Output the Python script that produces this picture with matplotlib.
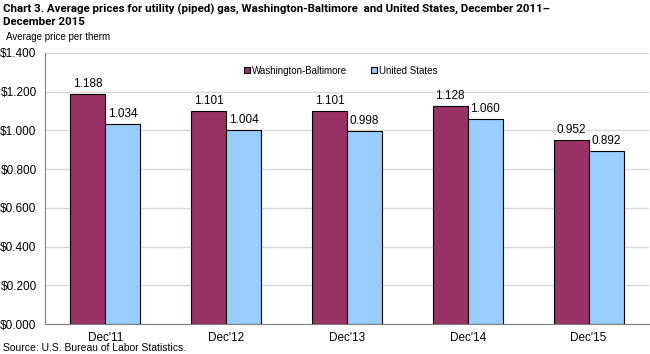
import numpy as np
import matplotlib
matplotlib.use('Agg')
import matplotlib.pyplot as plt
from matplotlib import font_manager as fm

# ── Data
periods = ["Dec'11", "Dec'12", "Dec'13", "Dec'14", "Dec'15"]
wash_balt = [1.188, 1.101, 1.101, 1.128, 0.952]
us_avg = [1.034, 1.004, 0.998, 1.060, 0.892]

C = {"wb": "#993366", "us": "#99ccff", "grid": "#d9d9d9"}

plt.rcParams['font.family'] = ['Liberation Sans', 'DejaVu Sans']

fig = plt.figure(figsize=(6.5, 3.54), dpi=100)
ax = fig.add_axes([45 / 650, 1 - 324 / 354, 604 / 650, 271 / 354])

x = np.arange(len(periods))
w = 0.29
b1 = ax.bar(x - w / 2, wash_balt, w, color=C["wb"], edgecolor="black", lw=0.8,
            label="Washington-Baltimore", zorder=3)
b2 = ax.bar(x + w / 2, us_avg, w, color=C["us"], edgecolor="black", lw=0.8,
            label="United States", zorder=3)
for bars, vals in ((b1, wash_balt), (b2, us_avg)):
    for b, v in zip(bars, vals):
        ax.text(b.get_x() + b.get_width() / 2, v + 0.02, f"{v:.3f}",
                ha="center", va="bottom", fontsize=8.5, zorder=4)

ax.set_xlim(-0.5, len(periods) - 0.5)
ax.set_ylim(0, 1.4)
ax.set_yticks(np.arange(0, 1.41, 0.2))
ax.set_yticklabels([f"${t:.3f}" for t in np.arange(0, 1.41, 0.2)], fontsize=8.5)
ax.set_xticks(x)
ax.set_xticklabels(periods, fontsize=8.5)
ax.tick_params(length=0, pad=6)
ax.grid(axis="y", color=C["grid"], lw=1, zorder=0)
for s in ("top", "right"):
    ax.spines[s].set_visible(False)
for s in ("left", "bottom"):
    ax.spines[s].set_color("#808080")
    ax.spines[s].set_linewidth(0.8)

ax.legend(loc="upper center", bbox_to_anchor=(0.49, 0.985), ncol=2, frameon=False,
          fontsize=7, handlelength=0.6, handleheight=0.6, handletextpad=0.2,
          columnspacing=2.5)

# ── Title: pick the narrowest bold face available, fit first line to ~545 px
line1 = "Chart 3. Average prices for utility (piped) gas, Washington-Baltimore  and United States, December 2011\u2013"
r = fig.canvas.get_renderer()
names = {f.name for f in fm.fontManager.ttflist}
cands = [dict(family=[n, "DejaVu Sans"]) for n in
         ("Liberation Sans Narrow", "Roboto", "Liberation Sans") if n in names]
cands.append(dict(family=["DejaVu Sans"], fontstretch="condensed"))
best, best_size = None, 0
for tf in cands:
    probe = fig.text(0, 0, line1, fontweight="bold", fontsize=10.5, **tf)
    wpx = probe.get_window_extent(r).width
    probe.remove()
    size = min(10.5, 10.5 * 548 / wpx)
    if size > best_size:
        best, best_size = tf, size

fig.text(3 / 650, 1 - 4 / 354, line1 + "\nDecember 2015",
         fontweight="bold", fontsize=best_size, va="top", ha="left",
         linespacing=1.25, **best)
fig.text(6 / 650, 1 - 37 / 354, "Average price per therm", fontsize=7, va="center", ha="left")
fig.text(3 / 650, 1 - 348 / 354, "Source: U.S. Bureau of Labor Statistics.", fontsize=7.5,
         va="center", ha="left")

fig.savefig("out.png", dpi=100, facecolor="white")
